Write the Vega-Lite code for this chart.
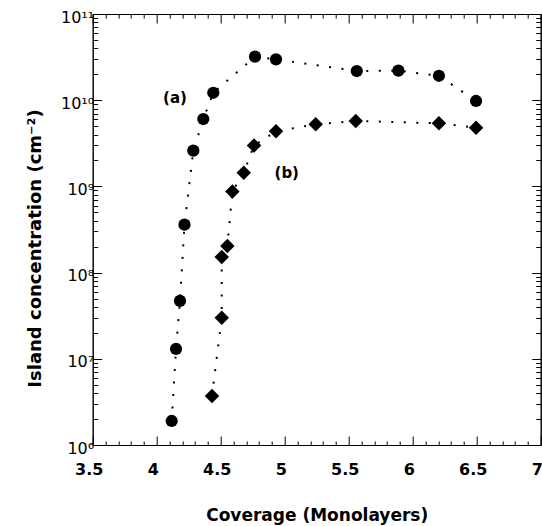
{
  "$schema": "https://vega.github.io/schema/vega-lite/v6.json",
  "width": 448,
  "height": 431,
  "autosize": {"type": "none"},
  "padding": {"left": 92.7, "top": 14, "right": 1.3, "bottom": 81},
  "background": "white",
  "config": {
    "view": {"stroke": "black", "strokeWidth": 1},
    "font": "Liberation Sans"
  },
  "datasets": {
    "pts": [
      {"series": "a", "i": 1, "coverage": 4.117, "conc": 1.9e6},
      {"series": "a", "i": 2, "coverage": 4.151, "conc": 1.3e7},
      {"series": "a", "i": 3, "coverage": 4.182, "conc": 4.7e7},
      {"series": "a", "i": 4, "coverage": 4.217, "conc": 3.6e8},
      {"series": "a", "i": 5, "coverage": 4.286, "conc": 2.6e9},
      {"series": "a", "i": 6, "coverage": 4.364, "conc": 6.05e9},
      {"series": "a", "i": 7, "coverage": 4.442, "conc": 1.22e10},
      {"series": "a", "i": 8, "coverage": 4.768, "conc": 3.2e10},
      {"series": "a", "i": 9, "coverage": 4.932, "conc": 2.98e10},
      {"series": "a", "i": 10, "coverage": 5.563, "conc": 2.18e10},
      {"series": "a", "i": 11, "coverage": 5.888, "conc": 2.2e10},
      {"series": "a", "i": 12, "coverage": 6.205, "conc": 1.92e10},
      {"series": "a", "i": 13, "coverage": 6.495, "conc": 9.8e9},
      {"series": "b", "i": 1, "coverage": 4.432, "conc": 3.7e6},
      {"series": "b", "i": 2, "coverage": 4.508, "conc": 3.0e7},
      {"series": "b", "i": 3, "coverage": 4.508, "conc": 1.52e8},
      {"series": "b", "i": 4, "coverage": 4.552, "conc": 2.04e8},
      {"series": "b", "i": 5, "coverage": 4.591, "conc": 8.7e8},
      {"series": "b", "i": 6, "coverage": 4.68, "conc": 1.44e9},
      {"series": "b", "i": 7, "coverage": 4.76, "conc": 2.98e9},
      {"series": "b", "i": 8, "coverage": 4.932, "conc": 4.36e9},
      {"series": "b", "i": 9, "coverage": 5.242, "conc": 5.25e9},
      {"series": "b", "i": 10, "coverage": 5.555, "conc": 5.74e9},
      {"series": "b", "i": 11, "coverage": 6.205, "conc": 5.4e9},
      {"series": "b", "i": 12, "coverage": 6.495, "conc": 4.8e9}
    ],
    "labels": [
      {"text": "(a)", "coverage": 4.143, "conc": 1.06e10},
      {"text": "(b)", "coverage": 5.016, "conc": 1.43e9}
    ]
  },
  "layer": [
    {
      "data": {"name": "pts"},
      "mark": {"type": "line", "color": "black", "strokeWidth": 2, "strokeDash": [2, 10.5]},
      "encoding": {
        "x": {
          "field": "coverage", "type": "quantitative",
          "scale": {"domain": [3.5, 7], "nice": false, "zero": false},
          "axis": {
            "orient": "bottom",
            "title": "Coverage (Monolayers)",
            "titleFont": "DejaVu Sans", "titleFontSize": 17, "titleFontWeight": "bold", "titleColor": "black",
            "titleBaseline": "middle", "titleY": 70,
            "values": [3.5,3.6,3.7,3.8,3.9,4,4.1,4.2,4.3,4.4,4.5,4.6,4.7,4.8,4.9,5,5.1,5.2,5.3,5.4,5.5,5.6,5.7,5.8,5.9,6,6.1,6.2,6.3,6.4,6.5,6.6,6.7,6.8,6.9,7],
            "format": "~g",
            "labelExpr": "abs(datum.value*2 - round(datum.value*2)) < 0.001 ? datum.label : ''",
            "labelFont": "DejaVu Sans", "labelFontSize": 16, "labelFontWeight": "bold", "labelColor": "black",
            "labelOverlap": false, "labelFlush": false, "labelPadding": 25, "labelOffset": -4,
            "grid": false, "domainColor": "black", "tickColor": "black", "tickWidth": 1,
            "tickSize": {"condition": {"test": "abs(datum.value*2 - round(datum.value*2)) < 0.001", "value": -9}, "value": -4}
          }
        },
        "y": {
          "field": "conc", "type": "quantitative",
          "scale": {"type": "log", "domain": [1e6, 1e11], "nice": false},
          "axis": {
            "orient": "left",
            "title": "Island concentration (cm⁻²)",
            "titleFont": "DejaVu Sans", "titleFontSize": 18, "titleFontWeight": "bold", "titleColor": "black",
            "titleAngle": -90, "titleAlign": "center", "titleBaseline": "middle", "titleX": -57, "titleY": 234,
            "values": [1e6,2e6,3e6,4e6,5e6,6e6,7e6,8e6,9e6,1e7,2e7,3e7,4e7,5e7,6e7,7e7,8e7,9e7,1e8,2e8,3e8,4e8,5e8,6e8,7e8,8e8,9e8,1e9,2e9,3e9,4e9,5e9,6e9,7e9,8e9,9e9,1e10,2e10,3e10,4e10,5e10,6e10,7e10,8e10,9e10,1e11],
            "labelExpr": "datum.value == 1e6 ? '10⁶' : datum.value == 1e7 ? '10⁷' : datum.value == 1e8 ? '10⁸' : datum.value == 1e9 ? '10⁹' : datum.value == 1e10 ? '10¹⁰' : datum.value == 1e11 ? '10¹¹' : ''",
            "labelFont": "DejaVu Sans", "labelFontSize": 16, "labelColor": "black",
            "labelOverlap": false, "labelFlush": false, "labelPadding": 8, "labelOffset": 3,
            "grid": false, "domainColor": "black", "tickColor": "black", "tickWidth": 1,
            "tickSize": {"condition": {"test": "abs(log(datum.value)/LN10 - round(log(datum.value)/LN10)) < 0.001", "value": -9}, "value": -5}
          }
        },
        "detail": {"field": "series"},
        "order": {"field": "i", "type": "quantitative"}
      }
    },
    {
      "data": {"name": "pts"},
      "mark": {"type": "point", "filled": true, "color": "black", "opacity": 1},
      "encoding": {
        "x": {"field": "coverage", "type": "quantitative", "axis": null},
        "y": {"field": "conc", "type": "quantitative", "axis": null},
        "shape": {"field": "series", "type": "nominal", "scale": {"domain": ["a", "b"], "range": ["circle", "diamond"]}, "legend": null},
        "size": {"field": "series", "type": "nominal", "scale": {"domain": ["a", "b"], "range": [150, 210]}, "legend": null}
      }
    },
    {
      "data": {"name": "labels"},
      "mark": {"type": "text", "font": "DejaVu Sans", "fontSize": 15, "fontWeight": "bold", "color": "black"},
      "encoding": {
        "x": {
          "field": "coverage", "type": "quantitative",
          "axis": {
            "orient": "top", "title": null, "labels": false, "grid": false,
            "values": [3.5,3.6,3.7,3.8,3.9,4,4.1,4.2,4.3,4.4,4.5,4.6,4.7,4.8,4.9,5,5.1,5.2,5.3,5.4,5.5,5.6,5.7,5.8,5.9,6,6.1,6.2,6.3,6.4,6.5,6.6,6.7,6.8,6.9,7],
            "domainColor": "black", "tickColor": "black", "tickWidth": 1,
            "tickSize": {"condition": {"test": "abs(datum.value*2 - round(datum.value*2)) < 0.001", "value": -9}, "value": -4}
          }
        },
        "y": {
          "field": "conc", "type": "quantitative",
          "axis": {
            "orient": "right", "title": null, "labels": false, "grid": false,
            "values": [1e6,2e6,3e6,4e6,5e6,6e6,7e6,8e6,9e6,1e7,2e7,3e7,4e7,5e7,6e7,7e7,8e7,9e7,1e8,2e8,3e8,4e8,5e8,6e8,7e8,8e8,9e8,1e9,2e9,3e9,4e9,5e9,6e9,7e9,8e9,9e9,1e10,2e10,3e10,4e10,5e10,6e10,7e10,8e10,9e10,1e11],
            "domainColor": "black", "tickColor": "black", "tickWidth": 1,
            "tickSize": {"condition": {"test": "abs(log(datum.value)/LN10 - round(log(datum.value)/LN10)) < 0.001", "value": -9}, "value": -5}
          }
        },
        "text": {"field": "text"}
      }
    }
  ],
  "resolve": {"axis": {"x": "independent", "y": "independent"}}
}
